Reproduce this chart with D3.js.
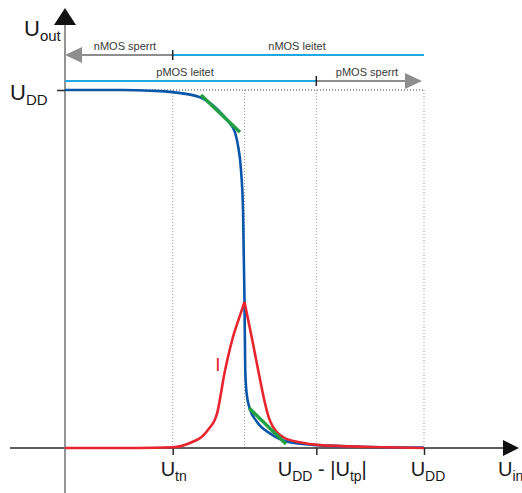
<!DOCTYPE html>
<html><head><meta charset="utf-8">
<script src="https://cdn.jsdelivr.net/npm/d3@7"></script>
<style>body{margin:0;background:#fff}svg{display:block}text{font-family:"Liberation Sans",Arial,sans-serif}</style>
</head><body><svg id="c" width="522" height="493"></svg>
<script>
// ---- data (Uin, Uout in volts, UDD = 5) ----
const UDD = 5, Utn = 1.5, UtpAbs = 1.5, Um = 2.5;
const transferUin  = [0, 0.8, 1.2, 1.5, 1.88, 2.09, 2.20, 2.30, 2.37, 2.41, 2.45, 2.48, 2.50, 2.51, 2.53, 2.57, 2.67, 2.86, 3.13, 3.51, 4.25, 5.0];
const transferUout = [5.0, 5.0, 4.99, 4.97, 4.90, 4.76, 4.65, 4.53, 4.40, 4.22, 3.90, 3.30, 2.07, 1.1, 0.76, 0.56, 0.37, 0.20, 0.08, 0.04, 0.015, 0.005];
const currentRiseUin = [0, 1.0, 1.5, 1.74, 1.92, 2.02, 2.08, 2.12, 2.17, 2.2, 2.27, 2.34, 2.42, 2.5];
const currentRiseI   = [0, 0.0, 0.01, 0.07, 0.17, 0.29, 0.38, 0.49, 0.75, 0.93, 1.27, 1.55, 1.80, 2.04];
const currentFallUin = [2.5, 2.6, 2.69, 2.78, 2.84, 2.9, 3.04, 3.27, 3.55, 4.25, 5.0];
const currentFallI   = [2.04, 1.55, 1.09, 0.65, 0.42, 0.29, 0.15, 0.08, 0.04, 0.015, 0.0];
const tangent1 = [[1.894, 4.93], [2.437, 4.41]];
const tangent2 = [[2.563, 0.559], [3.078, 0.056]];
const xTickValues = [Utn, UDD - UtpAbs, UDD];
const regionLabels = ["nMOS sperrt", "nMOS leitet", "pMOS leitet", "pMOS sperrt"];

const svg = d3.select("#c");
const x = d3.scaleLinear().domain([0, UDD]).range([65, 424]);
const y = d3.scaleLinear().domain([0, UDD]).range([448, 90]);

const grey = "#8e8e8e", lblue = "#20a8e4", dblue = "#0a56a8", red = "#e8242e", green = "#22a045";

// dotted guides
const dots = svg.append("g");
dots.append("line").attr("x1", x(0)).attr("x2", x(UDD)).attr("y1", y(UDD)).attr("y2", y(UDD))
  .attr("stroke", "#444").attr("stroke-width", 1).attr("stroke-dasharray", "1,2");
[Utn, Um, UDD - UtpAbs, UDD].forEach(v => {
  dots.append("line").attr("x1", x(v)).attr("x2", x(v)).attr("y1", y(UDD)).attr("y2", y(0))
    .attr("stroke", "#9a9a9a").attr("stroke-width", 1).attr("stroke-dasharray", "1,2");
});

// axes
svg.append("line").attr("x1", 10).attr("x2", 506).attr("y1", y(0)).attr("y2", y(0)).attr("stroke", "#2a2a2a").attr("stroke-width", 1.3);
svg.append("path").attr("d", `M503,440 L519,448 L503,456 Z`).attr("fill", "#111");
svg.append("line").attr("x1", x(0)).attr("x2", x(0)).attr("y1", 24).attr("y2", 493).attr("stroke", "#7a7a7a").attr("stroke-width", 1.6);
svg.append("path").attr("d", `M54,25 L65,8 L76,25 Z`).attr("fill", "#111");

const xAxis = d3.axisBottom(x).tickValues(xTickValues).tickSize(7).tickFormat("");
const gx = svg.append("g").attr("transform", `translate(0,${y(0)})`).call(xAxis);
gx.select(".domain").remove();
gx.selectAll(".tick line").attr("stroke", "#2a2a2a").attr("stroke-width", 1.5);
const yAxis = d3.axisLeft(y).tickValues([UDD]).tickSize(8).tickFormat("");
const gy = svg.append("g").attr("transform", `translate(${x(0)},0)`).call(yAxis);
gy.select(".domain").remove();
gy.selectAll(".tick line").attr("stroke", "#2a2a2a").attr("stroke-width", 1.5);

// region arrows
const r1 = 55, r2 = 81;
svg.append("line").attr("x1", 80).attr("x2", x(Utn)).attr("y1", r1).attr("y2", r1).attr("stroke", grey).attr("stroke-width", 2);
svg.append("path").attr("d", `M${x(0)},${r1} L82,${r1-8} L82,${r1+8} Z`).attr("fill", grey);
svg.append("line").attr("x1", x(Utn)).attr("x2", x(UDD)).attr("y1", r1).attr("y2", r1).attr("stroke", lblue).attr("stroke-width", 2);
svg.append("line").attr("x1", x(Utn)).attr("x2", x(Utn)).attr("y1", r1-5).attr("y2", r1+5).attr("stroke", "#222").attr("stroke-width", 1.5);

svg.append("line").attr("x1", x(0)).attr("x2", x(UDD-UtpAbs)).attr("y1", r2).attr("y2", r2).attr("stroke", lblue).attr("stroke-width", 2);
svg.append("line").attr("x1", x(UDD-UtpAbs)).attr("x2", 407).attr("y1", r2).attr("y2", r2).attr("stroke", grey).attr("stroke-width", 2);
svg.append("path").attr("d", `M422,${r2} L405,${r2-8} L405,${r2+8} Z`).attr("fill", grey);
svg.append("line").attr("x1", x(UDD-UtpAbs)).attr("x2", x(UDD-UtpAbs)).attr("y1", r2-5).attr("y2", r2+5).attr("stroke", "#222").attr("stroke-width", 1.5);

const small = (t, cx, cy) => svg.append("text").attr("x", cx).attr("y", cy).attr("text-anchor", "middle")
  .attr("font-size", 11).attr("fill", "#3a3a3a").text(t);
small(regionLabels[0], 125, 50);
small(regionLabels[1], 297, 50);
small(regionLabels[2], 185, 76);
small(regionLabels[3], 367, 76);

// curves
const line = d3.line().x(d => x(d[0])).y(d => y(d[1])).curve(d3.curveMonotoneX);
svg.append("path").datum(transferUin.map((u, i) => [u, transferUout[i]])).attr("d", line)
  .attr("fill", "none").attr("stroke", dblue).attr("stroke-width", 2.6);
[[currentRiseUin, currentRiseI], [currentFallUin, currentFallI]].forEach(([us, is]) =>
  svg.append("path").datum(us.map((u, i) => [u, is[i]])).attr("d", line)
    .attr("fill", "none").attr("stroke", red).attr("stroke-width", 2.6).attr("stroke-linejoin", "miter"));
const lin = d3.line().x(d => x(d[0])).y(d => y(d[1]));
[tangent1, tangent2].forEach(t => svg.append("path").attr("d", lin(t)).attr("fill", "none")
  .attr("stroke", green).attr("stroke-width", 3.5));

// labels
function label(parts, px, py, anchor, size, sub, color) {
  const t = svg.append("text").attr("x", px).attr("y", py).attr("text-anchor", anchor || "start")
    .attr("font-size", size).attr("fill", color || "#1a1a1a");
  parts.forEach(p => {
    if (p.sub) t.append("tspan").attr("font-size", sub).attr("dy", 5).text(p.sub);
    if (p.t) t.append("tspan").attr("font-size", size).attr("dy", p.back ? -5 : 0).text(p.t);
  });
  return t;
}
label([{t: "U"}, {sub: "out"}], 24, 36, "start", 22, 15);
label([{t: "U"}, {sub: "DD"}], 10, 100, "start", 22, 15);
label([{t: "U"}, {sub: "tn"}], x(Utn) + 1, 476, "middle", 20, 14);
label([{t: "U"}, {sub: "DD"}, {t: " - |U", back: true}, {sub: "tp"}, {t: "|", back: true}], x(UDD - UtpAbs) + 6, 476, "middle", 20, 14);
label([{t: "U"}, {sub: "DD"}], x(UDD) + 4, 476, "middle", 20, 14);
label([{t: "U"}, {sub: "in"}], 498, 476, "start", 20, 14);
svg.append("text").attr("x", 218).attr("y", 371).attr("text-anchor", "middle").attr("font-size", 19).attr("fill", red).text("I");
</script></body></html>
